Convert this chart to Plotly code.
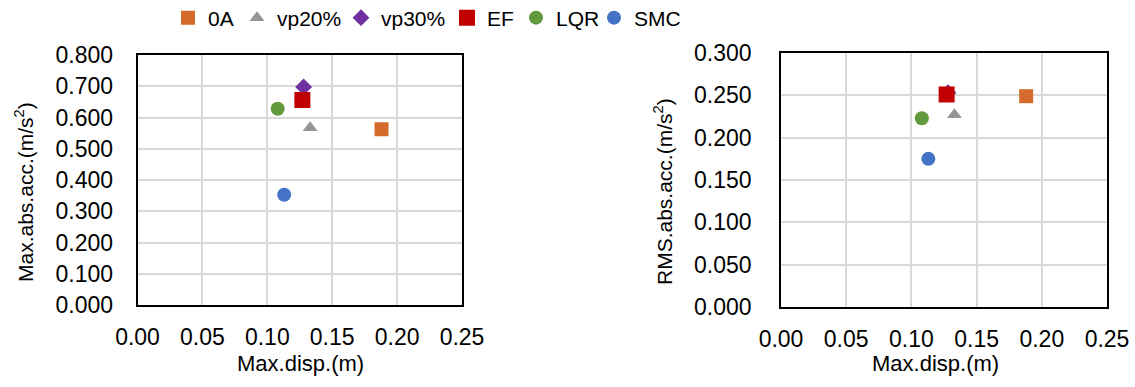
import plotly.graph_objects as go

# ---- data ----
categories = ["0A", "vp20%", "vp30%", "EF", "LQR", "SMC"]
max_disp = [0.188, 0.133, 0.128, 0.127, 0.108, 0.113]
max_abs_acc = [0.562, 0.567, 0.698, 0.656, 0.628, 0.353]
rms_abs_acc = [0.249, 0.227, 0.253, 0.251, 0.223, 0.175]

x_ticks = [0.00, 0.05, 0.10, 0.15, 0.20, 0.25]
y1_ticks = [0.0, 0.1, 0.2, 0.3, 0.4, 0.5, 0.6, 0.7, 0.8]
y2_ticks = [0.0, 0.05, 0.10, 0.15, 0.20, 0.25, 0.30]

# ---- styles ----
colors = ["#D46B2C", "#959595", "#7030A0", "#C00000", "#63993D", "#4472C4"]
symbols = ["square", "triangle-up", "diamond", "square", "circle", "circle"]
sizes = [14, 13, 13, 16, 14, 14]
legend_px = [168, 237, 341, 447, 516, 594]

W, H = 1135, 387
FONT = "Liberation Sans, Arial, sans-serif"

fig = go.Figure()
for i, name in enumerate(categories):
    lg = "legend" if i == 0 else f"legend{i+1}"
    fig.add_trace(go.Scatter(
        x=[max_disp[i]], y=[max_abs_acc[i]], mode="markers", name=name,
        marker=dict(color=colors[i], symbol=symbols[i], size=sizes[i], line=dict(width=0)),
        xaxis="x", yaxis="y", legend=lg, showlegend=True,
    ))
for i, name in enumerate(categories):
    fig.add_trace(go.Scatter(
        x=[max_disp[i]], y=[rms_abs_acc[i]], mode="markers", name=name,
        marker=dict(color=colors[i], symbol=symbols[i], size=sizes[i], line=dict(width=0)),
        xaxis="x2", yaxis="y2", showlegend=False,
    ))

axis_common = dict(
    showgrid=True, gridcolor="#D9D9D9", gridwidth=1.5,
    showline=True, linecolor="black", linewidth=1.5, mirror=True,
    zeroline=False, ticks="", automargin=False,
    tickfont=dict(family=FONT, size=23, color="black"),
)

layout = dict(
    width=W, height=H, margin=dict(l=0, r=0, t=0, b=0, autoexpand=False),
    paper_bgcolor="white", plot_bgcolor="white",
    font=dict(family=FONT, size=22, color="black"),
    xaxis=dict(domain=[137.5 / W, 462 / W], range=[0, 0.25], tickvals=x_ticks,
               ticktext=[f"{v:.2f}" for v in x_ticks], anchor="y", ticklabelstandoff=11, **axis_common),
    yaxis=dict(domain=[(H - 305) / H, (H - 55) / H], range=[0, 0.8], tickvals=y1_ticks,
               ticktext=[f"{v:.3f}" for v in y1_ticks], anchor="x", ticklabelstandoff=18, **axis_common),
    xaxis2=dict(domain=[781 / W, 1107 / W], range=[0, 0.25], tickvals=x_ticks,
                ticktext=[f"{v:.2f}" for v in x_ticks], anchor="y2", ticklabelstandoff=11, **axis_common),
    yaxis2=dict(domain=[(H - 307) / H, (H - 53) / H], range=[0, 0.3], tickvals=y2_ticks,
                ticktext=[f"{v:.3f}" for v in y2_ticks], anchor="x2", ticklabelstandoff=23, **axis_common),
    showlegend=True,
)

for i in range(len(categories)):
    key = "legend" if i == 0 else f"legend{i+1}"
    layout[key] = dict(
        x=legend_px[i] / W, y=(H - 18) / H, xanchor="left", yanchor="middle", orientation="h",
        bgcolor="rgba(0,0,0,0)", borderwidth=0,
        font=dict(family=FONT, size=21, color="black"),
    )

xt_font = dict(family=FONT, size=22, color="black")
yt_font = dict(family=FONT, size=21, color="black")
annotations = [
    dict(text="Max.disp.(m)", x=300 / W, y=(H - 363) / H, xref="paper", yref="paper",
         showarrow=False, xanchor="center", yanchor="middle", font=xt_font),
    dict(text="Max.disp.(m)", x=935 / W, y=(H - 363) / H, xref="paper", yref="paper",
         showarrow=False, xanchor="center", yanchor="middle", font=xt_font),
    dict(text="Max.abs.acc.(m/s<sup>2</sup>)", x=24 / W, y=(H - 192) / H, xref="paper", yref="paper",
         showarrow=False, xanchor="center", yanchor="middle", textangle=-90, font=yt_font),
    dict(text="RMS.abs.acc.(m/s<sup>2</sup>)", x=663 / W, y=(H - 192) / H, xref="paper", yref="paper",
         showarrow=False, xanchor="center", yanchor="middle", textangle=-90, font=yt_font),
]
layout["annotations"] = annotations

fig.update_layout(**layout)
fig.write_html("out.html", config={"displayModeBar": False},
               post_script="document.body.style.margin='0';document.body.style.overflow='hidden';")
